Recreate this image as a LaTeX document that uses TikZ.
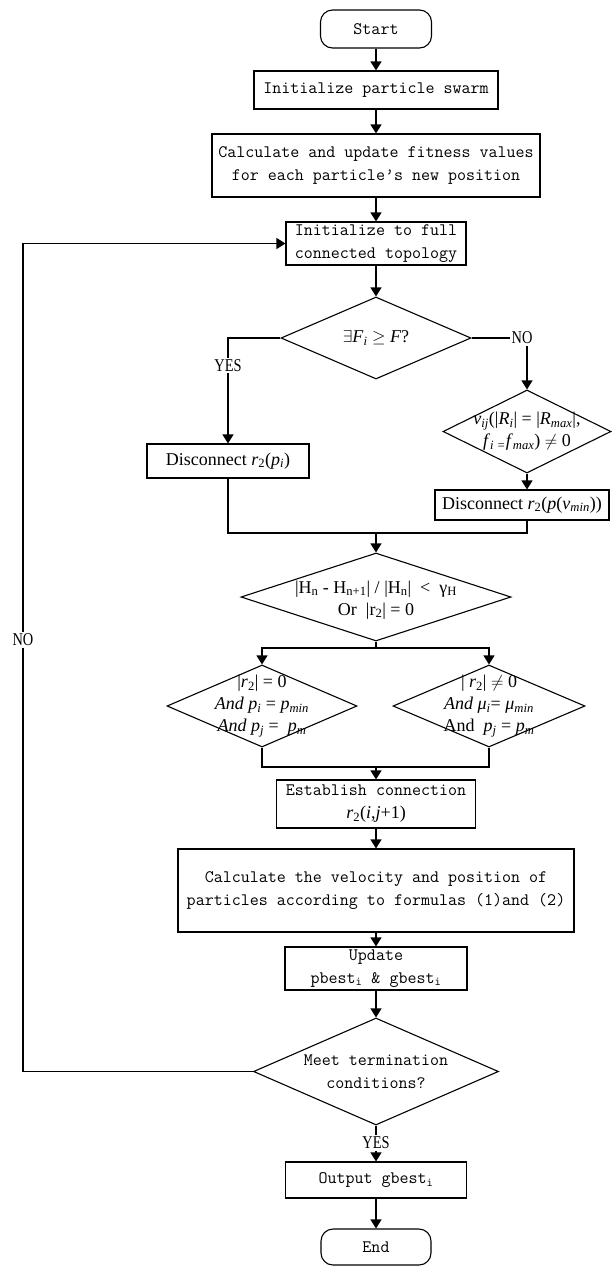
\documentclass[tikz,border=0pt]{standalone}
\usepackage{fontspec}
\setmainfont{Liberation Serif}
\newfontfamily\narrowserif[FakeStretch=0.8]{Liberation Serif}
\usepackage{tikz}
\usetikzlibrary{shapes.geometric,arrows.meta}

\newcommand{\monotxt}{\ttfamily\fontsize{17.5}{23}\selectfont}
\newcommand{\seriftxt}{\rmfamily\fontsize{18}{22}\selectfont}
\newcommand{\iv}[1]{\textit{#1}}
\newcommand{\isb}[1]{\textsubscript{\textit{#1}}}

\begin{document}
\begin{tikzpicture}[x=1pt,y=-1pt,
    every node/.style={inner sep=0pt},
    box/.style={draw, rectangle, line width=1.1pt, align=center, font=\monotxt},
    term/.style={box, rounded corners=12pt},
    sbox/.style={box, font=\seriftxt},
    cond/.style={draw, diamond, line width=1.1pt},
    ctext/.style={align=center, font=\seriftxt},
    lbl/.style={fill=white, inner sep=1.5pt, font=\narrowserif\fontsize{18}{20}\selectfont},
    arr/.style={-{Triangle[length=9pt,width=11pt]}, line width=1.1pt},
    ln/.style={line width=1.1pt}]
    \useasboundingbox (0,0) rectangle (611,1266);

    \node [term, minimum width=111, minimum height=38] (start) at (376,29) {Start};
    \node [box, minimum width=244, minimum height=38] (swarm) at (376,90) {Initialize particle swarm};
    \node [box, minimum width=328, minimum height=63] (fit) at (376,165.5) {Calculate and update fitness values\\for each particle’s new position};
    \node [box, minimum width=180, minimum height=43] (topo) at (376,243.5) {Initialize to full\\connected topology};

    \node [cond, minimum width=190, minimum height=82] (d1) at (376,338) {};
    \node [ctext] (d1t) at (d1) {$\exists$\iv{F}\isb{i} $\geq$ \iv{F}?};
    \node [sbox, minimum width=162, minimum height=34] (dis1) at (228,461) {Disconnect \iv{r}\textsubscript{2}(\iv{p}\isb{i})};
    \node [lbl] (no1) at (522,338) {NO};
    \node [cond, minimum width=168, minimum height=83] (d2) at (527,431.5) {};
    \node [ctext] (d2t) at (d2) {\iv{v}\isb{ij}(|\iv{R}\isb{i}| = |\iv{R}\isb{max}|,\\\iv{f}\isb{i =}\iv{f}\isb{max}) $\neq$ 0};
    \node [sbox, minimum width=174, minimum height=30] (dis2) at (522,505) {Disconnect \iv{r}\textsubscript{2}(\iv{p}(\iv{v}\isb{min}))};
    \coordinate (j1) at (376,533);

    \node [cond, minimum width=270, minimum height=88] (d3) at (376,597) {};
    \node [ctext] (d3t) at (376,600) {|H\textsubscript{n} - H\textsubscript{n+1}| / |H\textsubscript{n}| ~<~ γ\textsubscript{H}\\Or~ |r\textsubscript{2}| = 0};
    \coordinate (j2) at (376,648);
    \node [cond, minimum width=190, minimum height=82] (d4) at (262,706) {};
    \node [ctext] (d4t) at (d4) {|\iv{r}\textsubscript{2}| = 0\\\iv{And p}\isb{i} = \iv{p}\isb{min}\\\iv{And p}\isb{j} = ~\iv{p}\isb{m}};
    \node [cond, minimum width=192, minimum height=82] (d5) at (489,706) {};
    \node [ctext] (d5t) at (d5) {| \iv{r}\textsubscript{2}| $\neq$ 0\\\iv{And μ}\isb{i}= \iv{μ}\isb{min}\\And~ \iv{p}\isb{j} = \iv{p}\isb{m}};
    \coordinate (j3) at (376,767);

    \node [box, minimum width=199, minimum height=48] (est) at (376,804) {Establish connection\\{\seriftxt\iv{r}\textsubscript{2}(\iv{i},\iv{j}+1)}};
    \node [box, minimum width=396, minimum height=83] (vel) at (376,890.5) {Calculate the velocity and position of\\particles according to formulas (1)and (2)};
    \node [box, minimum width=182, minimum height=43] (upd) at (376,968.5) {Update\\pbest\textsubscript{i} \& gbest\textsubscript{i}};
    \node [cond, minimum width=245, minimum height=107] (d6) at (376,1071.5) {};
    \node [ctext, font=\monotxt] (d6t) at (d6) {Meet termination\\conditions?};
    \node [lbl] (no2) at (23,640) {NO};
    \node [lbl] (yes2) at (376,1143) {YES};
    \node [box, minimum width=181, minimum height=36] (out) at (376,1180) {Output gbest\textsubscript{i}};
    \node [term, minimum width=110, minimum height=36] (end) at (376,1247) {End};

    \draw [arr] (start) -- (swarm);
    \draw [arr] (swarm) -- (fit);
    \draw [arr] (fit) -- (topo);
    \draw [arr] (topo) -- (d1.north);
    \draw [arr] (d1.west) -| node [lbl, pos=0.63] {YES} (dis1.north);
    \draw [ln] (d1.east) -- (no1);
    \draw [arr] (no1.south -| d2.north) -- (d2.north);
    \draw [arr] (d2.south) -- (d2.south |- dis2.north);
    \draw [ln] (dis1.south) |- (j1);
    \draw [ln] (d2.south |- dis2.south) |- (j1);
    \draw [arr] (j1) -- (d3.north);
    \draw [ln] (d3.south) -- (j2);
    \draw [arr] (j2) -| (d4.north);
    \draw [arr] (j2) -| (d5.north);
    \draw [ln] (d4.south) |- (j3);
    \draw [ln] (d5.south) |- (j3);
    \draw [arr] (j3) -- (est.north);
    \draw [arr] (est) -- (vel);
    \draw [arr] (vel) -- (upd);
    \draw [arr] (upd) -- (d6.north);
    \draw [arr] (d6.west) -| (no2) |- (topo.west);
    \draw [ln] (d6.south) -- (yes2);
    \draw [arr] (yes2) -- (out);
    \draw [arr] (out) -- (end);
\end{tikzpicture}
\end{document}
